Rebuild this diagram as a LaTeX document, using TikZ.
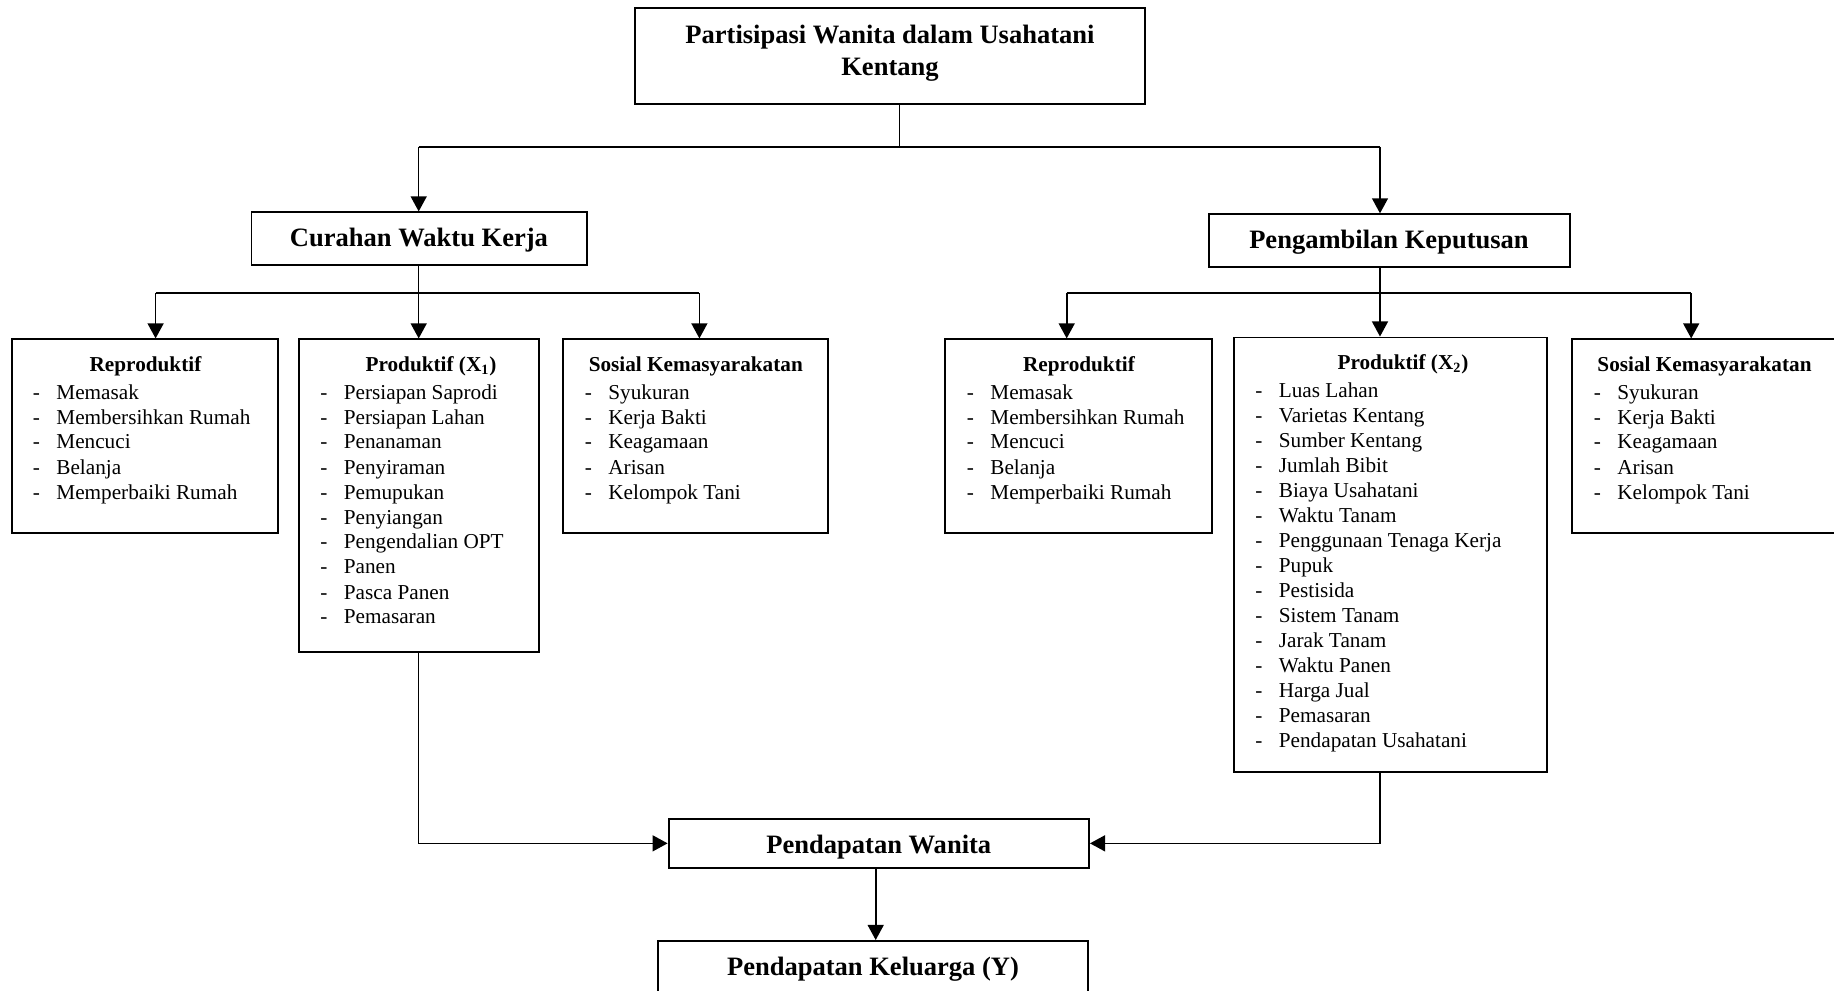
\documentclass[tikz,border=0pt]{standalone}
\usepackage{fontspec}
\setmainfont{Liberation Serif}
\usetikzlibrary{arrows.meta,fit}
\newcommand{\itemfont}{\fontsize{12}{14.13}\selectfont}
\newcommand{\bigheadfont}{\fontsize{15}{17}\selectfont\bfseries}
\newcommand{\titlefont}{\fontsize{15}{17.9}\selectfont\bfseries}
\newcommand{\smallheadfont}{\fontsize{12}{14}\selectfont\bfseries}
\newcommand{\dsh}{\makebox[13.3pt][l]{-}}
\tikzset{
  box/.style={draw, line width=1.1pt, inner sep=0pt, rectangle},
  bighead/.style={inner sep=0pt, anchor=base, font=\bigheadfont},
  smallhead/.style={inner sep=0pt, anchor=base, font=\smallheadfont},
  lst/.style={inner sep=0pt, anchor=base west, font=\itemfont},
  ln/.style={line width=0.9pt},
  arr/.style={line width=0.9pt, -{Triangle[length=8.5pt,width=9pt]}}
}
\begin{document}
\begin{tikzpicture}[x=0.5652pt,y=-0.5652pt]
\useasboundingbox (0,0) rectangle (1834,991);
% top
\node[box, fit={(635,8) (1145,104)}] (tbox) {};
\node[inner sep=0pt, anchor=base, font=\titlefont] (ttext) at (890,75.6) {\begin{tabular}[b]{@{}c@{}}Partisipasi Wanita dalam Usahatani\\Kentang\end{tabular}};
% level 2
\node[box, fit={(251.5,212.4) (587,265)}] (cur) {};
\node[bighead] (curt) at (419,246) {Curahan Waktu Kerja};
\node[box, fit={(1209,214.3) (1569.6,266.8)}] (pen) {};
\node[bighead] (pent) at (1389,248) {Pengambilan Keputusan};
% level 3 left
\node[box, fit={(11.7,339.4) (278.4,532.9)}] (rl) {};
\node[smallhead] (rlh) at (145.5,371) {Reproduktif};
\node[lst] (rll) at (32.5,399) {\begin{tabular}[t]{@{}l@{}}\dsh Memasak\\\dsh Membersihkan Rumah\\\dsh Mencuci\\\dsh Belanja\\\dsh Memperbaiki Rumah\end{tabular}};
\node[box, fit={(299.4,339.4) (539.2,651.7)}] (xa) {};
\node[smallhead] (xah) at (431,371) {Produktif (X\textsubscript{1})};
\node[lst] (xal) at (320,399) {\begin{tabular}[t]{@{}l@{}}\dsh Persiapan Saprodi\\\dsh Persiapan Lahan\\\dsh Penanaman\\\dsh Penyiraman\\\dsh Pemupukan\\\dsh Penyiangan\\\dsh Pengendalian OPT\\\dsh Panen\\\dsh Pasca Panen\\\dsh Pemasaran\end{tabular}};
\node[box, fit={(562.6,339.4) (828,532.9)}] (sl) {};
\node[smallhead] (slh) at (695.8,371) {Sosial Kemasyarakatan};
\node[lst] (sll) at (584.5,399) {\begin{tabular}[t]{@{}l@{}}\dsh Syukuran\\\dsh Kerja Bakti\\\dsh Keagamaan\\\dsh Arisan\\\dsh Kelompok Tani\end{tabular}};
% level 3 right
\node[box, fit={(945,339.4) (1211.7,532.9)}] (rr) {};
\node[smallhead] (rrh) at (1079,371) {Reproduktif};
\node[lst] (rrl) at (966.5,399) {\begin{tabular}[t]{@{}l@{}}\dsh Memasak\\\dsh Membersihkan Rumah\\\dsh Mencuci\\\dsh Belanja\\\dsh Memperbaiki Rumah\end{tabular}};
\node[box, fit={(1234,337.5) (1547.4,771.8)}] (xb) {};
\node[smallhead] (xbh) at (1403,369.3) {Produktif (X\textsubscript{2})};
\node[lst] (xbl) at (1255,397.3) {\begin{tabular}[t]{@{}l@{}}\dsh Luas Lahan\\\dsh Varietas Kentang\\\dsh Sumber Kentang\\\dsh Jumlah Bibit\\\dsh Biaya Usahatani\\\dsh Waktu Tanam\\\dsh Penggunaan Tenaga Kerja\\\dsh Pupuk\\\dsh Pestisida\\\dsh Sistem Tanam\\\dsh Jarak Tanam\\\dsh Waktu Panen\\\dsh Harga Jual\\\dsh Pemasaran\\\dsh Pendapatan Usahatani\end{tabular}};
\node[box, fit={(1572,339.4) (1845,532.9)}] (sr) {};
\node[smallhead] (srh) at (1704.5,371) {Sosial Kemasyarakatan};
\node[lst] (srl) at (1593.5,399) {\begin{tabular}[t]{@{}l@{}}\dsh Syukuran\\\dsh Kerja Bakti\\\dsh Keagamaan\\\dsh Arisan\\\dsh Kelompok Tani\end{tabular}};
% bottom
\node[box, fit={(668.6,819) (1089,867.7)}] (wan) {};
\node[bighead] (want) at (878.8,853) {Pendapatan Wanita};
\node[box, fit={(658,941) (1088,1010)}] (kel) {};
\node[bighead] (kelt) at (873,975) {Pendapatan Keluarga (Y)};
% connectors top
\coordinate (c1) at (899.5,147);
\coordinate (hL) at (418.7,147);
\coordinate (hR) at (1380,147);
\draw[line width=0.7pt] (c1 |- tbox.south) -- (c1);
\draw[ln] (hL) -- (hR);
\draw[arr] (hL) -- (hL |- cur.north);
\draw[arr] (hR) -- (hR |- pen.north);
% left branch
\coordinate (lc) at (418.7,293);
\coordinate (l1) at (155.6,293);
\coordinate (l3) at (699.4,293);
\draw[ln] (lc |- cur.south) -- (lc);
\draw[ln] (l1) -- (l3);
\draw[arr] (l1) -- (l1 |- rl.north);
\draw[arr] (lc) -- (lc |- xa.north);
\draw[arr] (l3) -- (l3 |- sl.north);
% right branch
\coordinate (rc) at (1380,293);
\coordinate (r1) at (1066.7,293);
\coordinate (r3) at (1691.2,293);
\draw[ln] (rc |- pen.south) -- (rc);
\draw[ln] (r1) -- (r3);
\draw[arr] (r1) -- (r1 |- rr.north);
\draw[arr] (rc) -- (rc |- xb.north);
\draw[arr] (r3) -- (r3 |- sr.north);
% bottom connectors
\coordinate (xaB) at (418.7,651.7);
\coordinate (xbB) at (1380,771.8);
\draw[arr] (xaB) |- (wan.west);
\draw[arr] (xbB) |- (wan.east);
\coordinate (wd) at (875.7,867.7);
\draw[arr] (wd) -- (wd |- kel.north);
\end{tikzpicture}
\end{document}
